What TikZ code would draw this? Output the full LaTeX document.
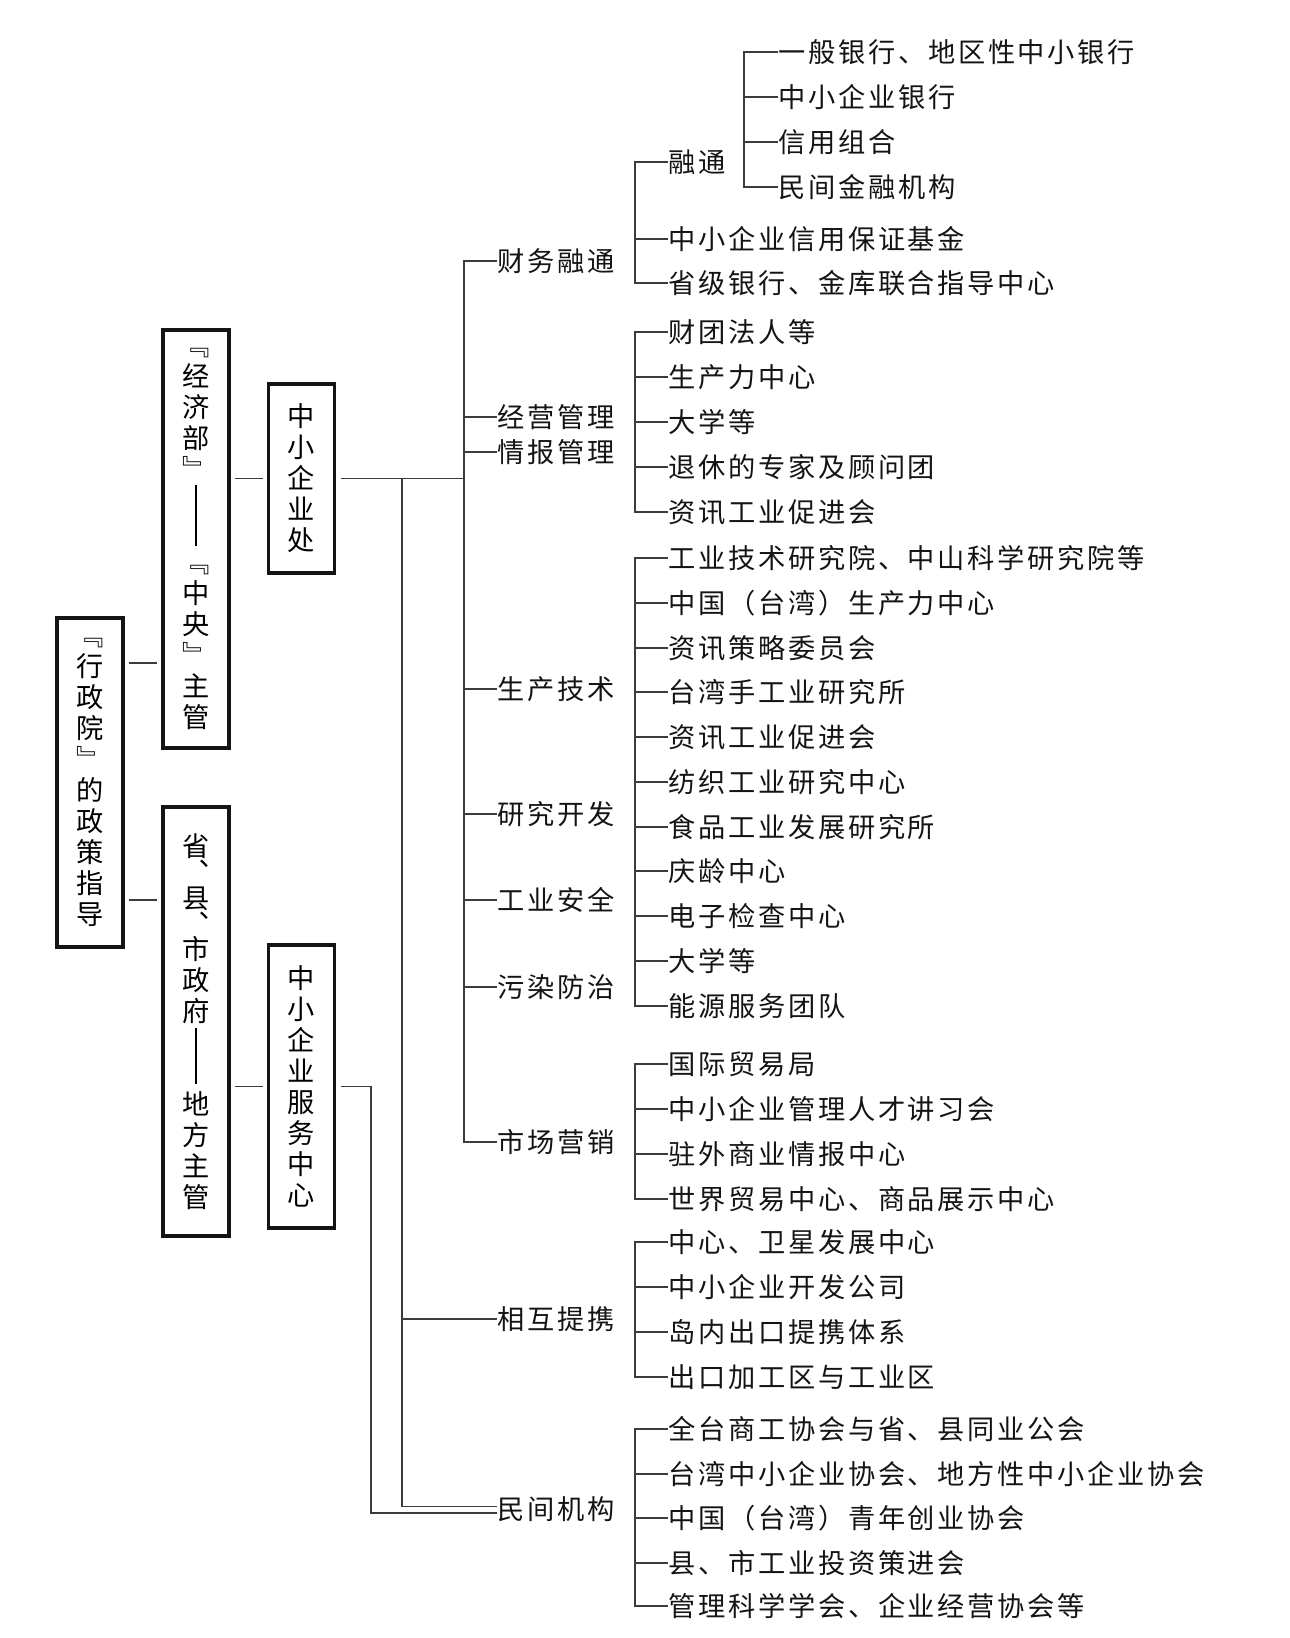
\documentclass[tikz,border=0pt]{standalone}
\usepackage{fontspec}
\setmainfont{Noto Sans CJK SC}[LetterSpace=10]
\usepackage{tikz}
\definecolor{ink}{RGB}{20,20,20}
\definecolor{wire}{RGB}{60,60,60}
\newcommand{\cnsize}{\fontsize{15.5pt}{17.6pt}\selectfont}
\newcommand{\barcell}[2]{\smash{\rule[-#1]{0.6pt}{#2}}}

\begin{document}
\begin{tikzpicture}[x=0.02cm, y=-0.02cm,
		box/.style={draw=ink, line width=1.8pt, minimum width=1.32cm, inner sep=0pt, align=center, font=\cnsize},
		lvl/.style={anchor=west, inner sep=0pt, text height=13.6pt, text depth=1.9pt, font=\cnsize, text=ink},
		leaf/.style={lvl},
		link/.style={draw=wire, line width=0.7pt},
		gap/.style={shorten <=0.08cm, shorten >=0.08cm}]
	\useasboundingbox (0,0) rectangle (1290,1638);

	% vertical boxes
	\node[box, minimum height=6.58cm] (xzy) at (90,782.5)
		{﹃\\行\\政\\院\\﹄\\的\\政\\策\\指\\导};
	\node[box, minimum height=8.36cm] (jjb) at (196,539)
		{﹃\\经\\济\\部\\﹄\\\barcell{20.2pt}{34.6pt}\\[17.6pt]﹃\\中\\央\\﹄\\主\\管};
	\node[box, minimum height=3.78cm] (zxqyc) at (301.5,478.5)
		{中\\小\\企\\业\\处};
	\node[box, minimum height=8.58cm] (sxs) at (196,1021.5)
		{省\\[-2.85pt]︑\\[-2.85pt]县\\[-2.85pt]︑\\[-2.85pt]市\\政\\府\\\barcell{17.9pt}{31.8pt}\\[17.6pt]地\\方\\主\\管};
	\node[box, minimum height=5.66cm] (fwzx) at (301.5,1086.5)
		{中\\小\\企\\业\\服\\务\\中\\心};

	\draw[link, gap] (xzy.east |- 0,663) -- (jjb.west |- 0,663);
	\draw[link, gap] (xzy.east |- 0,900) -- (sxs.west |- 0,900);
	\draw[link, gap] (jjb.east |- zxqyc.west) -- (zxqyc.west);
	\draw[link, gap] (sxs.east |- fwzx.west) -- (fwzx.west);

	% second level
	\foreach \nm/\y/\t in {cwrt/261/财务融通, jygl/417/经营管理, qbgl/452/情报管理,
		scjs/689/生产技术, yjkf/814/研究开发, gyaq/900/工业安全, wrfz/987/污染防治,
		scyx/1142/市场营销, hxtx/1319/相互提携, mjjg/1509/民间机构}
		\node[lvl] (\nm) at (497,\y) {\t};

	\coordinate (hub) at (464,478.5);
	\coordinate (fork) at (402,478.5);
	\coordinate (drop) at (371,1086.5);
	\draw[link, shorten <=0.1cm] (zxqyc.east) -- (hub);
	\draw[link] (cwrt.west) -| (hub) |- (scyx.west);
	\foreach \nm in {jygl,qbgl,scjs,yjkf,gyaq,wrfz}
		\draw[link] (hub |- \nm.west) -- (\nm.west);
	\draw[link] (fork) |- ([yshift=0.05cm]mjjg.west);
	\draw[link] (fork |- hxtx.west) -- (hxtx.west);
	\draw[link, shorten <=0.1cm] (fwzx.east) -- (drop) |- ([yshift=-0.08cm]mjjg.west);

	% leaves
	\foreach \y/\t [count=\i] in {162/融通, 239/中小企业信用保证基金, 283/省级银行、金库联合指导中心}
		\node[leaf] (cw\i) at (668,\y) {\t};
	\foreach \y/\t [count=\i] in {52/一般银行、地区性中小银行, 97/中小企业银行, 142/信用组合, 187/民间金融机构}
		\node[leaf] (rt\i) at (778,\y) {\t};
	\foreach \y/\t [count=\i] in {332/财团法人等, 377/生产力中心, 422/大学等, 467/退休的专家及顾问团, 512/资讯工业促进会}
		\node[leaf] (qb\i) at (668,\y) {\t};
	\foreach \y/\t [count=\i] in {558/工业技术研究院、中山科学研究院等, 603/中国（台湾）生产力中心,
		648/资讯策略委员会, 692/台湾手工业研究所, 737/资讯工业促进会, 782/纺织工业研究中心,
		827/食品工业发展研究所, 871/庆龄中心, 916/电子检查中心, 961/大学等, 1006/能源服务团队}
		\node[leaf] (sc\i) at (668,\y) {\t};
	\foreach \y/\t [count=\i] in {1064/国际贸易局, 1109/中小企业管理人才讲习会, 1154/驻外商业情报中心, 1199/世界贸易中心、商品展示中心}
		\node[leaf] (sy\i) at (668,\y) {\t};
	\foreach \y/\t [count=\i] in {1242/中心、卫星发展中心, 1287/中小企业开发公司, 1332/岛内出口提携体系, 1377/出口加工区与工业区}
		\node[leaf] (hx\i) at (668,\y) {\t};
	\foreach \y/\t [count=\i] in {1429/全台商工协会与省、县同业公会, 1474/台湾中小企业协会、地方性中小企业协会,
		1518/中国（台湾）青年创业协会, 1563/县、市工业投资策进会, 1606/管理科学学会、企业经营协会等}
		\node[leaf] (mj\i) at (668,\y) {\t};

	% brackets
	\foreach \g/\n in {cw/3, qb/5, sc/11, sy/4, hx/4, mj/5} {
		\pgfmathtruncatemacro\m{\n-1}
		\draw[link] (\g1.west) -- ++(-33,0) |- (\g\n.west);
		\foreach \i in {2,...,\m}
			\draw[link] (\g\i.west) -- ++(-33,0);
	}
	\draw[link] (rt1.west) -- ++(-34,0) |- (rt4.west);
	\foreach \i in {2,3}
		\draw[link] (rt\i.west) -- ++(-34,0);
\end{tikzpicture}
\end{document}
